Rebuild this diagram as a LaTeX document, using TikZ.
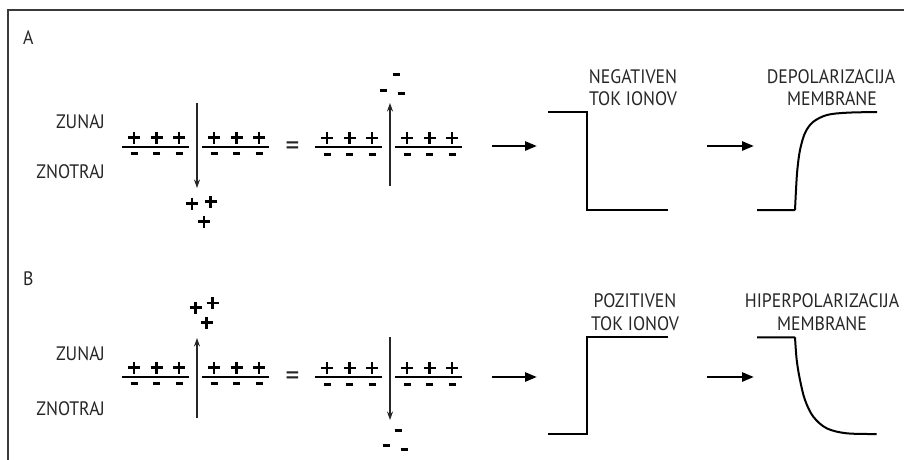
\documentclass[tikz,border=0pt]{standalone}
\usepackage{fontspec}
\setmainfont{PT Sans}[FakeStretch=0.91]
\usetikzlibrary{arrows.meta}
\definecolor{ink}{HTML}{262626}
\definecolor{framecol}{HTML}{3A3A3A}
\begin{document}
\begin{tikzpicture}[x=1pt,y=-1pt,
  lbl/.style={font=\fontsize{19.5}{22}\selectfont, text=ink, inner sep=0pt},
  eqsign/.style={font=\fontsize{30}{30}\selectfont, text=ink, inner sep=0pt},
  memb/.style={line width=2pt},
  flux/.style={line width=1.4pt, draw=ink, -{Stealth[length=8.5pt,width=6pt]}},
  bigarrow/.style={line width=2.6pt, -{Triangle[length=12pt,width=9pt]}},
  trace/.style={line width=2pt, line join=miter},
  pluschg/.pic={\draw[line width=2.6pt] (-6,0) -- (6,0) (0,-6) -- (0,6);},
  minuschg/.pic={\draw[line width=3pt] (-3.5,0) -- (3.5,0);},
  membseg/.pic={
    \draw[memb] (0,0) -- (67,0);
    \foreach \u in {12,34.5,57} {
      \pic at (\u,-9.2) {pluschg};
      \pic at (\u,7) {minuschg};
    }
  }]
\useasboundingbox (0,0) rectangle (904,460);

% open frame: left and top edges
\draw[line width=1.6pt, framecol] (8,460) -- (8,10) -- (904,10);

% ---------------- row A ----------------
\node[lbl, anchor=base west] (labA) at (23,45) {A};
\node[lbl, anchor=base east] (outA) at (105,128) {ZUNAJ};
\node[lbl, anchor=base east] (inA) at (105,178) {ZNOTRAJ};

\pic at (122,146.7) {membseg};
\pic at (202,146.7) {membseg};
\pic at (315,147) {membseg};
\pic at (395,147) {membseg};

\node[eqsign] (eqA) at (292.5,148.5) {=};

\coordinate (fluxAtop) at (197,103);
\coordinate (fluxAbot) at (197,188);
\draw[flux] (fluxAtop) -- (fluxAbot);
\pic at (192,203.5) {pluschg};
\pic at (210.5,201.5) {pluschg};
\pic at (204,221.5) {pluschg};

\coordinate (fluxBbot) at (390,186);
\coordinate (fluxBtop) at (390,103);
\draw[flux] (fluxBbot) -- (fluxBtop);
\pic at (396,74) {minuschg};
\pic at (383,90) {minuschg};
\pic at (401,93) {minuschg};

\coordinate (arAs) at (492,146);
\coordinate (arAe) at (537,146);
\draw[bigarrow] (arAs) -- (arAe);
\draw[trace] (548,112) -- (587,112) -- (587,210) -- (668,210);
\node[lbl, anchor=base] (negA1) at (633,83.3) {NEGATIVEN};
\node[lbl, anchor=base] (negA2) at (633,105) {TOK IONOV};

\coordinate (arA2s) at (707,146);
\coordinate (arA2e) at (754,146);
\draw[bigarrow] (arA2s) -- (arA2e);
\draw[trace] (757,210) -- (795,210)
  plot[smooth, tension=0.55] coordinates {(795,210) (796,190) (797.3,170) (800,150) (805,133) (813,122) (827,115) (847,112.7) (877,112)};
\node[lbl, anchor=base] (depA1) at (831,83.3) {DEPOLARIZACIJA};
\node[lbl, anchor=base] (depA2) at (832,105) {MEMBRANE};

% ---------------- row B ----------------
\node[lbl, anchor=base west] (labB) at (23,285) {B};
\node[lbl, anchor=base east] (outB) at (105,360) {ZUNAJ};
\node[lbl, anchor=base east] (inB) at (105,415) {ZNOTRAJ};

\pic at (122,376.7) {membseg};
\pic at (202,376.7) {membseg};
\pic at (315,377) {membseg};
\pic at (395,377) {membseg};

\node[eqsign] (eqB) at (292.5,379) {=};

\coordinate (fluxCbot) at (197,418);
\coordinate (fluxCtop) at (197,338);
\draw[flux] (fluxCbot) -- (fluxCtop);
\pic at (195.5,307.5) {pluschg};
\pic at (212.5,303) {pluschg};
\pic at (206.5,322.5) {pluschg};

\coordinate (fluxDtop) at (390,337);
\coordinate (fluxDbot) at (390,420);
\draw[flux] (fluxDtop) -- (fluxDbot);
\pic at (398,430) {minuschg};
\pic at (386,445) {minuschg};
\pic at (404,449) {minuschg};

\coordinate (arBs) at (492,377);
\coordinate (arBe) at (537,377);
\draw[bigarrow] (arBs) -- (arBe);
\draw[trace] (548,434) -- (587,434) -- (587,337) -- (668,337);
\node[lbl, anchor=base] (posB1) at (635,307) {POZITIVEN};
\node[lbl, anchor=base] (posB2) at (635,330) {TOK IONOV};

\coordinate (arB2s) at (707,377);
\coordinate (arB2e) at (754,377);
\draw[bigarrow] (arB2s) -- (arB2e);
\draw[trace] (757,337.3) -- (795,337.3)
  plot[smooth, tension=0.55] coordinates {(795,337.3) (796.7,360) (800,380) (805,400) (813.3,416.7) (826.7,428.3) (846.7,433.3) (876.7,434)};
\node[lbl, anchor=base] (hypB1) at (822,307) {HIPERPOLARIZACIJA};
\node[lbl, anchor=base] (hypB2) at (822,330) {MEMBRANE};
\end{tikzpicture}
\end{document}
